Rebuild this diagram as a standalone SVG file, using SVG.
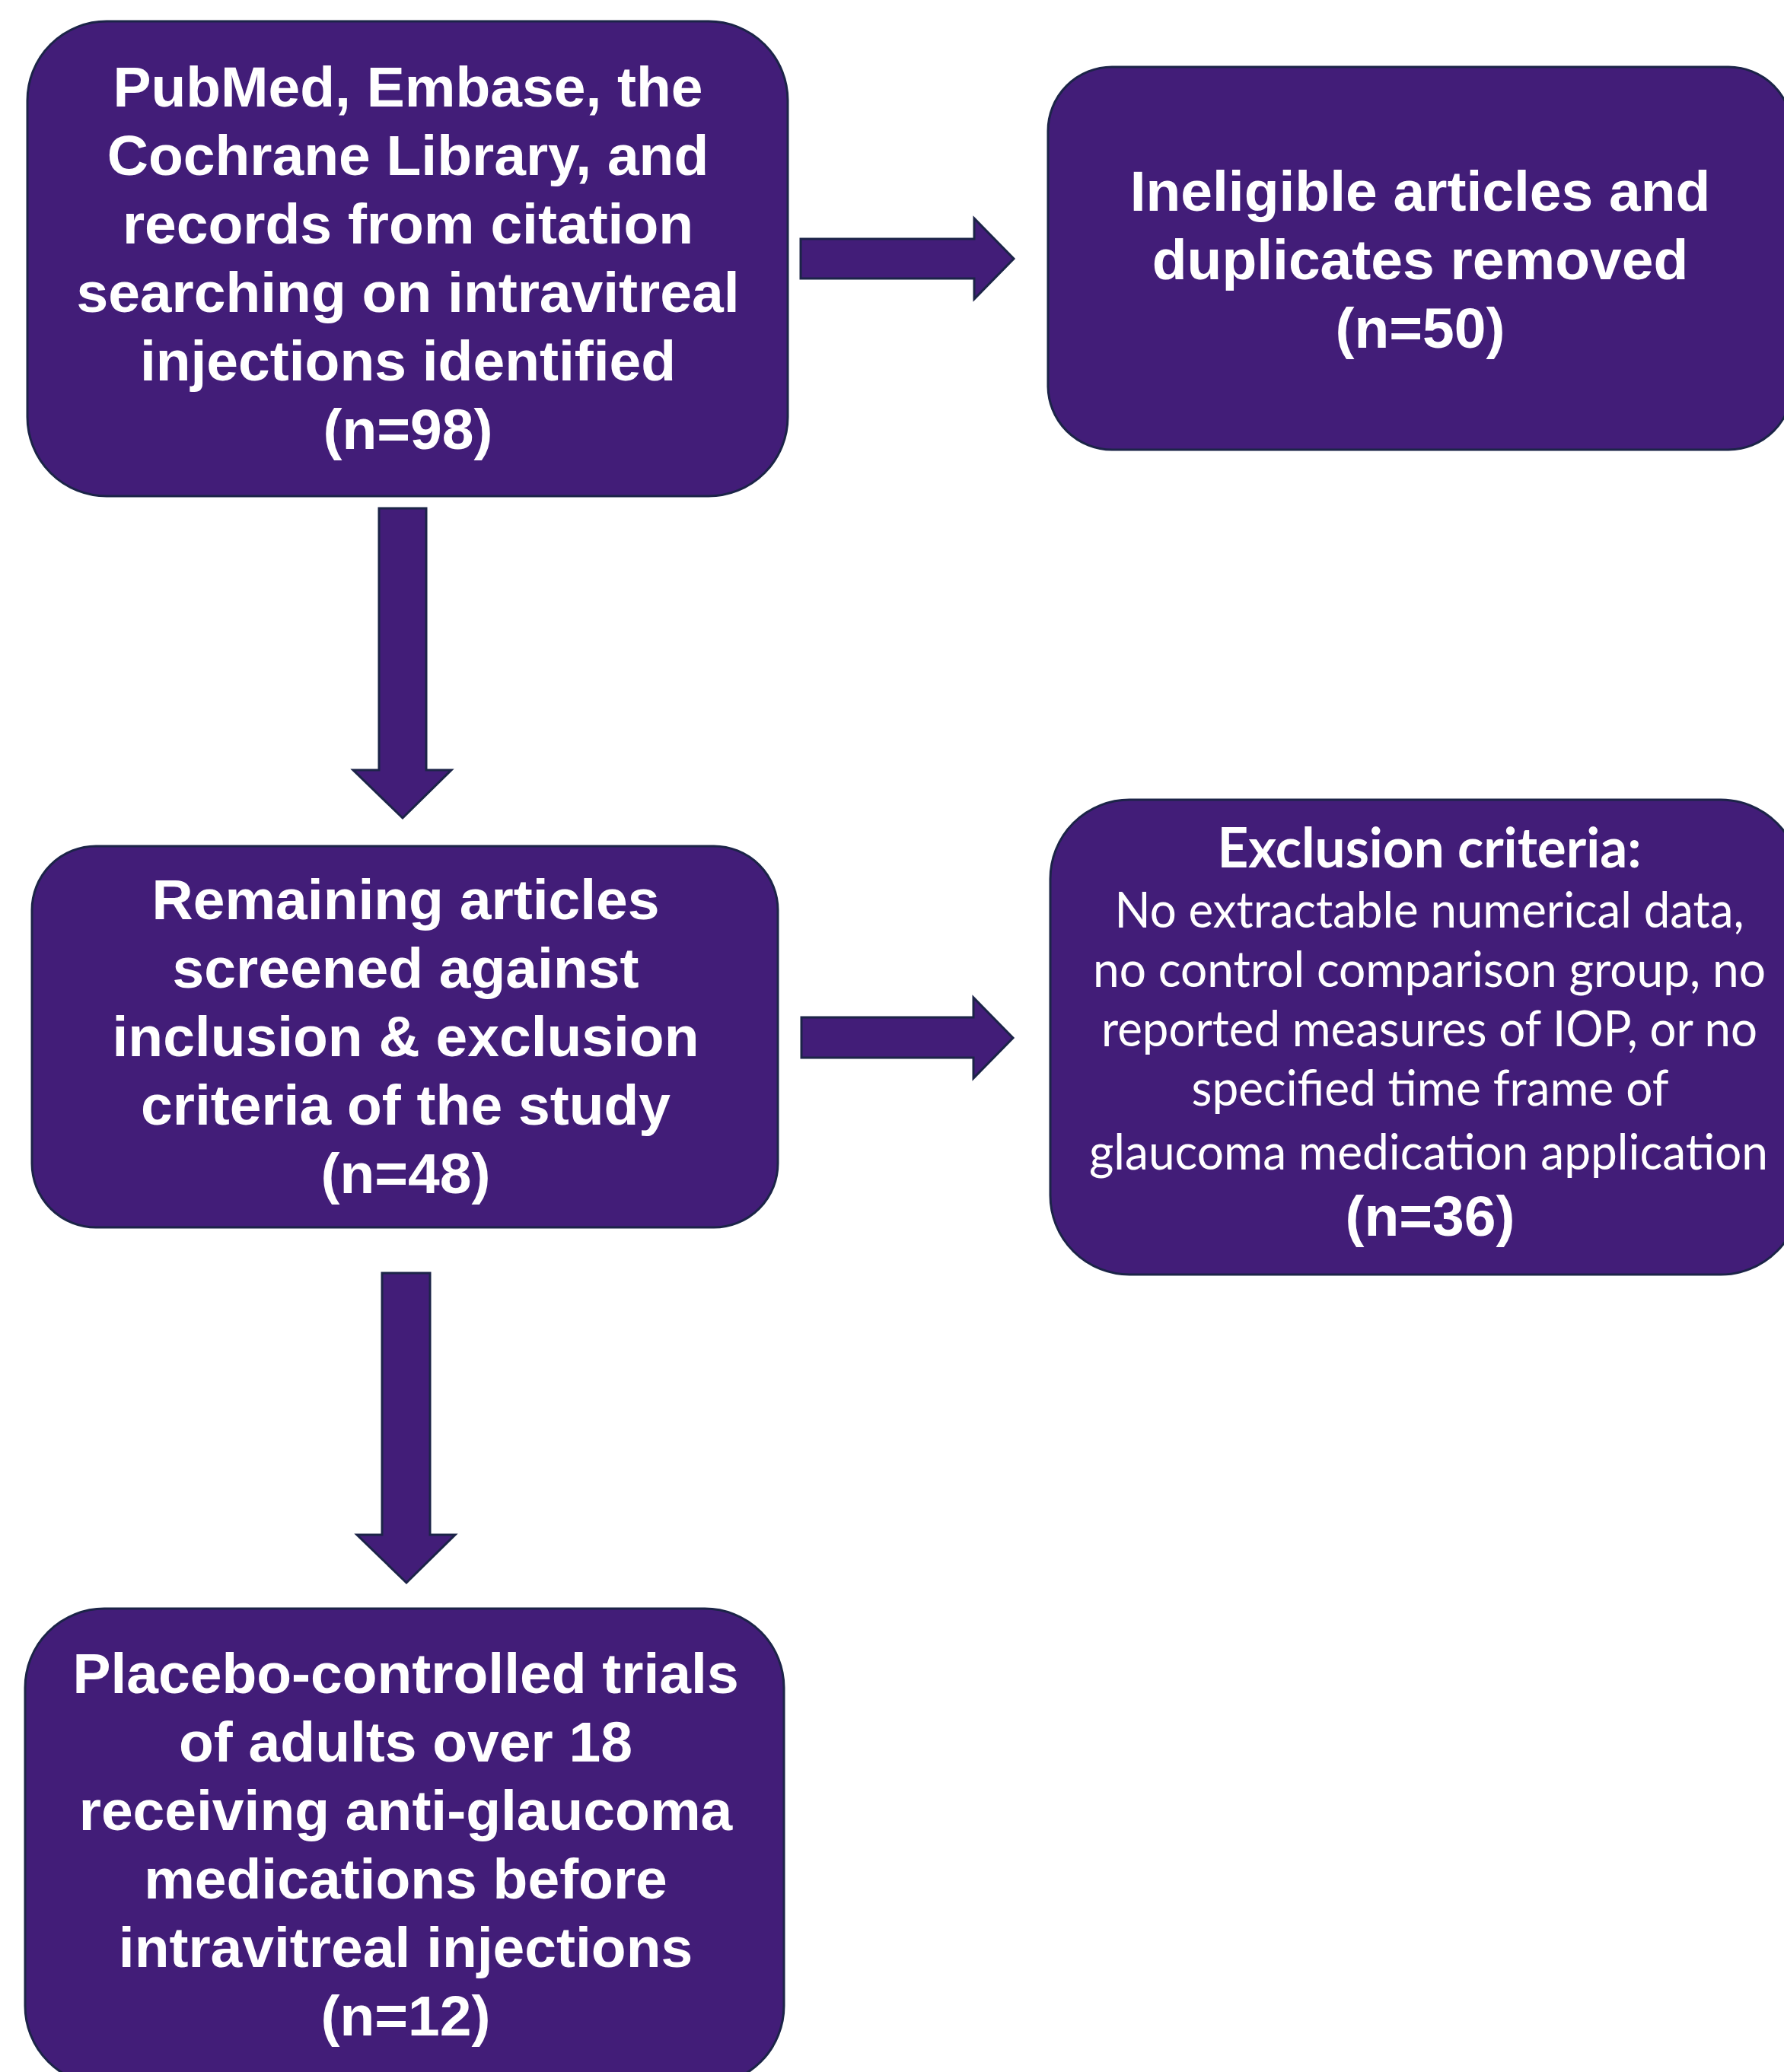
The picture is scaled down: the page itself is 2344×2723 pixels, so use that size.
<svg xmlns="http://www.w3.org/2000/svg" width="2344" height="2723" viewBox="0 0 2344 2723">
<style>
.box{fill:#421d78;stroke:#1c2448;stroke-width:3}
.arr{fill:#421d78;stroke:#1c2448;stroke-width:3;stroke-linejoin:miter}
.b{font-family:"Liberation Sans",Arial,sans-serif;font-weight:bold;font-size:75px;fill:#ffffff;text-anchor:middle}
.h{font-family:Lato,"Liberation Sans",sans-serif;font-weight:bold;font-size:72px;fill:#ffffff;text-anchor:middle}
.r{font-family:Lato,"Liberation Sans",sans-serif;font-size:66px;fill:#ffffff;text-anchor:middle}
</style>
<rect width="2344" height="2723" fill="#ffffff"/>
<g id="connectors">
<path class="arr" d="M1052,314 H1280 V287 L1332,340 L1280,393 V366 H1052 Z"/>
<path class="arr" d="M1053,1337 H1279 V1311 L1331,1364 L1279,1417 V1390 H1053 Z"/>
<path class="arr" d="M498,668 H560 V1012 H593 L529,1075 L464,1012 H498 Z"/>
<path class="arr" d="M502,1673 H565 V2017 H598 L534,2080 L469,2017 H502 Z"/>
</g>
<g id="node-identified">
<rect class="box" x="36" y="28" width="999" height="624" rx="104" ry="104"/>
<text class="b" x="536" y="140">PubMed, Embase, the</text>
<text class="b" x="536" y="230">Cochrane Library, and</text>
<text class="b" x="536" y="320">records from citation</text>
<text class="b" x="536" y="410">searching on intravitreal</text>
<text class="b" x="536" y="500">injections identified</text>
<text class="b" x="536" y="590">(n=98)</text>
</g>
<g id="node-removed">
<rect class="box" x="1377" y="88" width="978" height="503" rx="84" ry="84"/>
<text class="b" x="1866" y="277">Ineligible articles and</text>
<text class="b" x="1866" y="367">duplicates removed</text>
<text class="b" x="1866" y="457">(n=50)</text>
</g>
<g id="node-screened">
<rect class="box" x="42" y="1112" width="980" height="501" rx="84" ry="84"/>
<text class="b" x="533" y="1208">Remaining articles</text>
<text class="b" x="533" y="1298">screened against</text>
<text class="b" x="533" y="1388">inclusion &amp; exclusion</text>
<text class="b" x="533" y="1478">criteria of the study</text>
<text class="b" x="533" y="1568">(n=48)</text>
</g>
<g id="node-exclusion">
<rect class="box" x="1380" y="1051" width="985" height="624" rx="104" ry="104"/>
<text class="h" x="1878" y="1140" textLength="557" lengthAdjust="spacingAndGlyphs">Exclusion criteria:</text>
<text class="r" x="1878" y="1219" textLength="827" lengthAdjust="spacingAndGlyphs">No extractable numerical data,</text>
<text class="r" x="1878" y="1297" textLength="884" lengthAdjust="spacingAndGlyphs">no control comparison group, no</text>
<text class="r" x="1878" y="1375" textLength="862" lengthAdjust="spacingAndGlyphs">reported measures of IOP, or no</text>
<text class="r" x="1879" y="1453" textLength="627" lengthAdjust="spacingAndGlyphs">specified time frame of</text>
<text class="r" x="1877" y="1537" textLength="892" lengthAdjust="spacingAndGlyphs">glaucoma medication application</text>
<text class="b" x="1879" y="1624">(n=36)</text>
</g>
<g id="node-included">
<rect class="box" x="33" y="2114" width="997" height="626" rx="104" ry="104"/>
<text class="b" x="533" y="2225">Placebo-controlled trials</text>
<text class="b" x="533" y="2315">of adults over 18</text>
<text class="b" x="533" y="2405">receiving anti-glaucoma</text>
<text class="b" x="533" y="2495">medications before</text>
<text class="b" x="533" y="2585">intravitreal injections</text>
<text class="b" x="533" y="2675">(n=12)</text>
</g>
</svg>
